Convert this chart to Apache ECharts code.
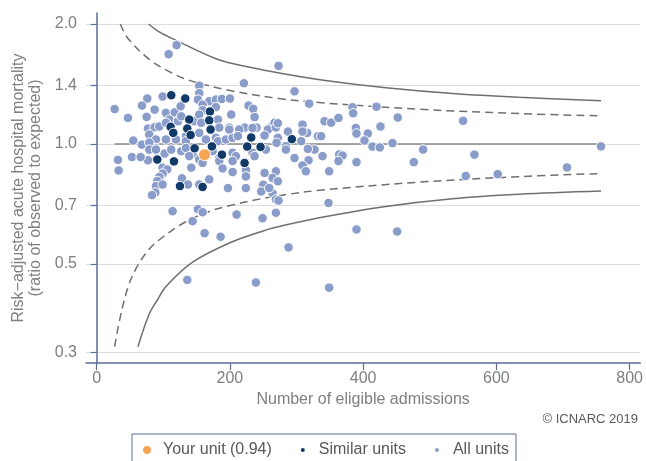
<!DOCTYPE html>
<html>
<head>
<meta charset="utf-8">
<script src="https://cdn.jsdelivr.net/npm/echarts@6.0.0/dist/echarts.min.js"></script>
<style>html,body{margin:0;padding:0;background:#fff;}#chart{width:646px;height:461px;}</style>
</head>
<body>
<div id="chart"></div>
<script>
// ---- data ----
const xTicks = [0, 200, 400, 600, 800];
const yTicks = [0.3, 0.5, 0.7, 1.0, 1.4, 2.0];

const yourUnit = [[162, 0.94]];

const similarUnits = [
  [112,1.325],[133,1.30],[170,1.206],[169,1.146],[171,1.087],[139,1.151],[136,1.093],[111,1.104],
  [115,1.066],[141,1.053],[147,0.975],[173,0.986],[188,0.94],[226,0.985],[246,0.983],[232,1.038],
  [222,0.896],[293,1.028],[91,0.914],[116,0.904],[125,0.784],[159,0.78]
];

const allUnits = [
  [120,1.77],[108,1.68],[273,1.57],[221,1.42],[154,1.40],[297,1.355],[319,1.262],[27,1.223],[47,1.162],
  [55,1.02],[32,0.912],[33,0.858],[53,0.927],[68,0.996],[77,0.91],
  [76,1.30],[68,1.248],[87,1.219],[75,1.169],[99,1.315],[154,1.341],[152,1.292],[169,1.28],[179,1.292],
  [188,1.297],[200,1.30],[159,1.255],[159,1.215],[228,1.248],[235,1.225],[202,1.185],[182,1.151],[237,1.168],
  [147,1.14],[262,1.104],[267,1.13],[104,1.197],[117,1.20],[126,1.243],[109,1.151],[122,1.14],[77,1.093],
  [87,1.101],[179,1.237],[127,1.173],[154,1.185],[94,1.106],[104,1.13],[157,1.13],[184,1.099],[199,1.099],
  [222,1.099],[240,1.099],[287,1.074],[309,1.118],[316,1.066],[342,1.14],
  [79,1.056],[89,1.026],[104,1.026],[119,1.026],[134,1.046],[154,1.066],[164,1.026],[179,1.036],[182,1.016],
  [194,1.026],[204,1.036],[199,1.087],[214,1.087],[234,1.097],[257,1.087],[269,1.10],[134,1.016],[212,1.046],
  [252,1.05],[272,1.036],[284,0.987],[307,1.016],[332,1.046],[337,1.046],[270,1.007],[272,1.127],[309,1.074],
  [89,0.977],[102,0.946],[112,0.968],[127,0.959],[134,0.977],[144,0.941],[154,0.914],[174,0.959],[184,0.922],
  [204,0.95],[209,0.932],[234,0.95],[254,0.968],[284,0.968],[297,0.922],[327,0.968],[339,0.932],[139,0.932],
  [204,0.906],[237,0.932],[317,0.972],[318,0.91],[79,1.008],[79,0.968],[89,0.968],[66,0.927],
  [99,0.872],[142,0.872],[159,0.896],[184,0.906],[189,0.868],[204,0.85],[224,0.86],[252,0.846],[269,0.854],
  [309,0.883],[314,0.854],[349,0.854],[224,0.829],[264,0.822],[250,0.79],[272,0.806],[169,0.815],[154,0.791],
  [197,0.775],[224,0.775],[247,0.76],[264,0.752],[269,0.726],[259,0.775],
  [106,0.863],[99,0.843],[94,0.826],[91,0.807],[89,0.784],[88,0.755],[83,0.744],[99,0.791],[128,0.82],[137,0.791],
  [114,0.678],[152,0.686],[159,0.674],[210,0.665],[249,0.651],[269,0.672],[273,0.721],[348,0.711],[144,0.64],
  [162,0.597],[186,0.585],[288,0.55],[136,0.456],[239,0.449],[349,0.436],[390,0.61],[451,0.603],
  [384,1.236],[385,1.194],[420,1.24],[452,1.165],[550,1.143],[352,1.131],[363,1.162],[389,1.097],[390,1.062],
  [407,1.062],[402,1.02],[426,1.106],[414,0.985],[425,0.98],[444,1.005],[490,0.968],[476,0.90],[364,0.941],
  [369,0.935],[363,0.906],[390,0.90],[567,0.94],[554,0.831],[602,0.84],[706,0.873],[757,0.986]
];

// control limits
const upper998 = [[78,2.0],[94,1.91],[119,1.82],[181,1.632],[232,1.555],[274,1.507],[349,1.438],[434,1.383],[534,1.338],[634,1.309],[757,1.284]];
const upper95  = [[35.5,2.0],[47,1.84],[79,1.63],[107,1.525],[137,1.448],[197,1.365],[274,1.30],[334,1.27],[484,1.222],[634,1.192],[757,1.176]];
const lower95  = [[27,0.31],[34.5,0.362],[47,0.437],[60,0.49],[79,0.545],[100,0.585],[133,0.637],[172,0.68],[207,0.705],[242,0.726],[279,0.744],[334,0.765],[484,0.802],[634,0.828],[757,0.843]];
const lower998 = [[62,0.31],[79,0.375],[92,0.408],[104,0.439],[144,0.505],[200,0.565],[250,0.605],[280,0.624],[334,0.653],[434,0.697],[534,0.729],[634,0.748],[757,0.762]];
const targetLine = [[27,1.0],[757,1.0]];

const legendNames = ['Your unit (0.94)', 'Similar units', 'All units'];

// ---- chart ----
const FONT = "'Liberation Sans', Arial, sans-serif";
const AXIS = '#5b6c9a';
const chart = echarts.init(document.getElementById('chart'), null, {renderer: 'canvas'});

function limitSeries(name, data, dashed) {
  return {
    name: name, type: 'line', data: data, smooth: 0.35,
    showSymbol: false, symbol: 'none', silent: true, z: 1,
    lineStyle: {color: '#6f6f6f', width: 1.5, type: dashed ? [8, 5] : 'solid'}
  };
}

chart.setOption({
  animation: false,
  textStyle: {fontFamily: FONT},
  grid: {left: 86, right: 4, top: 13, bottom: 98, containLabel: false},
  title: {
    text: '© ICNARC 2019', right: 8, top: 413, padding: 0,
    textStyle: {fontSize: 13, fontWeight: 'normal', color: '#595959', fontFamily: FONT}
  },
  legend: {
    data: [
      {name: legendNames[0], icon: 'path://M0,0M16,10M0,5A5,5,0,1,1,10,5A5,5,0,1,1,0,5Z'},
      {name: legendNames[1], icon: 'path://M0,0M16,10M2,5A3,3,0,1,1,8,5A3,3,0,1,1,2,5Z'},
      {name: legendNames[2], icon: 'path://M0,0M16,10M2,5A3,3,0,1,1,8,5A3,3,0,1,1,2,5Z'}
    ],
    left: 132, top: 434, orient: 'horizontal',
    padding: [8, 7, 8, 9], itemGap: 25, itemWidth: 16, itemHeight: 10,
    borderColor: AXIS, borderWidth: 1, selectedMode: false,
    textStyle: {fontSize: 16, color: '#595959', fontFamily: FONT}
  },
  xAxis: {
    type: 'value', min: -16, max: 816,
    name: 'Number of eligible admissions', nameLocation: 'middle', nameGap: 25,
    nameTextStyle: {fontSize: 16, color: '#7f7f7f', fontFamily: FONT},
    axisLine: {show: true, lineStyle: {color: AXIS, width: 1.5}},
    axisTick: {show: true, length: 7, lineStyle: {color: AXIS, width: 1.2}, customValues: xTicks},
    axisLabel: {fontSize: 16, color: '#7f7f7f', margin: 8, customValues: xTicks, fontFamily: FONT},
    splitLine: {show: false}
  },
  yAxis: {
    type: 'log', logBase: 10, min: 0.2821, max: 2.131,
    name: 'Risk\u2212adjusted acute hospital mortality\n(ratio of observed to expected)',
    nameLocation: 'middle', nameGap: 38, nameRotate: 90,
    nameTextStyle: {fontSize: 16, color: '#7f7f7f', lineHeight: 17, fontFamily: FONT},
    axisLine: {show: true, lineStyle: {color: AXIS, width: 1.5}},
    axisTick: {show: true, length: 6, lineStyle: {color: AXIS, width: 1.2}, customValues: yTicks},
    axisLabel: {fontSize: 16, color: '#7f7f7f', margin: 9, customValues: yTicks, fontFamily: FONT,
      formatter: v => Number(v).toFixed(1)},
    splitLine: {show: true, lineStyle: {color: '#dcdcdc', width: 1}}
  },
  series: [
    limitSeries('u998', upper998, false),
    limitSeries('u95', upper95, true),
    limitSeries('l95', lower95, true),
    limitSeries('l998', lower998, false),
    {name: 'target', type: 'line', data: targetLine, showSymbol: false, symbol: 'none', silent: true, z: 1,
     lineStyle: {color: '#8a8a8a', width: 1.5}},
    {name: legendNames[2], type: 'scatter', data: allUnits, symbolSize: 9.5, z: 3,
     itemStyle: {color: '#8a9cca', borderColor: '#ffffff', borderWidth: 1, opacity: 1}},
    {name: legendNames[1], type: 'scatter', data: similarUnits, symbolSize: 9.5, z: 4,
     itemStyle: {color: '#123a69', borderColor: '#ffffff', borderWidth: 1, opacity: 1}},
    {name: legendNames[0], type: 'scatter', data: yourUnit, symbolSize: 12, z: 5,
     itemStyle: {color: '#f7a354', borderColor: '#ffffff', borderWidth: 1, opacity: 1}}
  ]
});
</script>
</body>
</html>
